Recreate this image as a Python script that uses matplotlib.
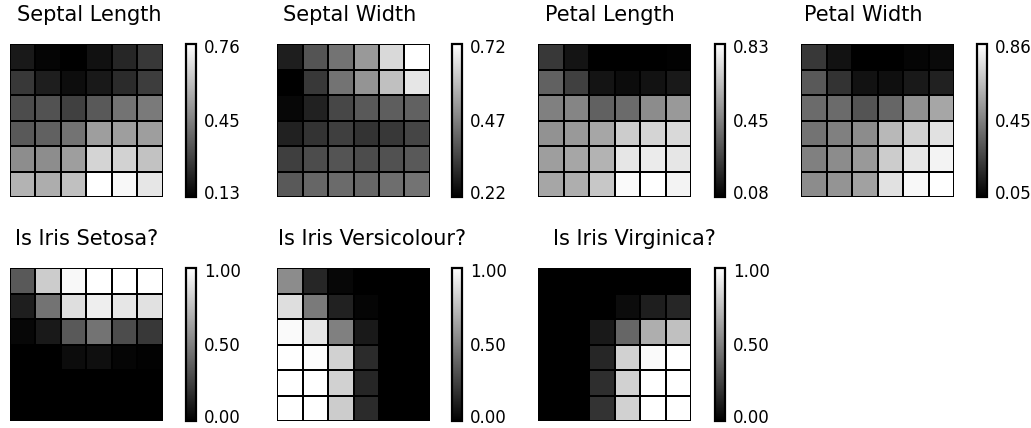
import numpy as np
import matplotlib.pyplot as plt
from matplotlib.transforms import offset_copy

# 6x6 SOM node weights for each feature (rows top to bottom)
septal_length = [
    [0.195, 0.145, 0.132, 0.176, 0.227, 0.271],
    [0.271, 0.208, 0.164, 0.195, 0.239, 0.283],
    [0.321, 0.334, 0.290, 0.353, 0.416, 0.434],
    [0.353, 0.371, 0.416, 0.523, 0.523, 0.523],
    [0.479, 0.479, 0.523, 0.655, 0.649, 0.611],
    [0.573, 0.560, 0.605, 0.762, 0.743, 0.699],
]
septal_width = [
    [0.280, 0.385, 0.445, 0.520, 0.645, 0.720],
    [0.220, 0.330, 0.445, 0.510, 0.595, 0.670],
    [0.235, 0.285, 0.360, 0.395, 0.405, 0.410],
    [0.285, 0.320, 0.345, 0.320, 0.330, 0.355],
    [0.345, 0.370, 0.385, 0.370, 0.380, 0.395],
    [0.395, 0.420, 0.430, 0.420, 0.435, 0.445],
]
petal_length = [
    [0.243, 0.138, 0.078, 0.078, 0.078, 0.086],
    [0.363, 0.266, 0.138, 0.116, 0.131, 0.153],
    [0.453, 0.468, 0.363, 0.393, 0.491, 0.528],
    [0.506, 0.528, 0.566, 0.678, 0.701, 0.716],
    [0.543, 0.566, 0.603, 0.753, 0.768, 0.753],
    [0.566, 0.588, 0.663, 0.813, 0.828, 0.791],
]
petal_width = [
    [0.226, 0.105, 0.048, 0.048, 0.064, 0.080],
    [0.331, 0.210, 0.105, 0.097, 0.129, 0.153],
    [0.388, 0.388, 0.315, 0.372, 0.509, 0.574],
    [0.412, 0.453, 0.493, 0.630, 0.711, 0.760],
    [0.453, 0.493, 0.533, 0.695, 0.776, 0.817],
    [0.493, 0.517, 0.558, 0.760, 0.833, 0.857],
]
is_setosa = [
    [0.35, 0.80, 0.97, 1.00, 1.00, 1.00],
    [0.12, 0.45, 0.87, 0.93, 0.90, 0.88],
    [0.03, 0.10, 0.35, 0.45, 0.30, 0.22],
    [0.00, 0.00, 0.05, 0.06, 0.02, 0.01],
    [0.00, 0.00, 0.00, 0.00, 0.00, 0.00],
    [0.00, 0.00, 0.00, 0.00, 0.00, 0.00],
]
is_versicolour = [
    [0.55, 0.15, 0.03, 0.00, 0.00, 0.00],
    [0.87, 0.48, 0.13, 0.02, 0.00, 0.00],
    [0.98, 0.90, 0.50, 0.10, 0.00, 0.00],
    [1.00, 0.99, 0.82, 0.17, 0.00, 0.00],
    [1.00, 1.00, 0.82, 0.15, 0.00, 0.00],
    [1.00, 1.00, 0.80, 0.17, 0.00, 0.00],
]
is_virginica = [
    [0.00, 0.00, 0.00, 0.00, 0.00, 0.00],
    [0.00, 0.00, 0.00, 0.05, 0.12, 0.15],
    [0.00, 0.00, 0.10, 0.40, 0.68, 0.75],
    [0.00, 0.00, 0.15, 0.82, 0.98, 1.00],
    [0.00, 0.00, 0.18, 0.82, 1.00, 1.00],
    [0.00, 0.00, 0.20, 0.82, 1.00, 1.00],
]

titles = ['Septal Length', 'Septal Width', 'Petal Length', 'Petal Width',
          'Is Iris Setosa?', 'Is Iris Versicolour?', 'Is Iris Virginica?']
grids = [septal_length, septal_width, petal_length, petal_width,
         is_setosa, is_versicolour, is_virginica]

W, H = 1031, 428
fig = plt.figure(figsize=(W / 100, H / 100), dpi=100)

map_left = [10, 277, 538, 801]
bar_left = [186, 452, 715, 977]
row_top = [44, 268]
size = 153
# horizontal centre of each title, in pixels
title_x = [89, 350, 610, 863, 87, 372, 634]


def box(x, y, w, h):
    return [x / W, 1 - (y + h) / H, w / W, h / H]


for i, (title, grid) in enumerate(zip(titles, grids)):
    r, c = divmod(i, 4)
    data = np.array(grid)
    ax = fig.add_axes(box(map_left[c], row_top[r], size, size))
    mesh = ax.pcolormesh(data, cmap='gray', edgecolors='k', linewidth=1.3)
    ax.set_ylim(6, 0)
    ax.set_xlim(0, 6)
    ax.axis('off')
    fig.text(title_x[i] / W, 1 - (row_top[r] - 29) / H, title,
             ha='center', va='center', fontsize=15)

    cax = fig.add_axes(box(bar_left[c], row_top[r], 10, size))
    cb = fig.colorbar(mesh, cax=cax, ticks=[])
    cb.outline.set_linewidth(1.6)

    # min / mid / max labels, the end ones nudged inside the bar
    lo, hi = data.min(), data.max()
    trans = offset_copy(cax.transAxes, fig=fig, x=8, y=0, units='dots')
    for val, frac in [(hi, 0.975), ((lo + hi) / 2, 0.49), (lo, 0.02)]:
        cax.text(1, frac, '%.2f' % val, transform=trans,
                 ha='left', va='center', fontsize=12)

fig.savefig('out.png', dpi=100)
